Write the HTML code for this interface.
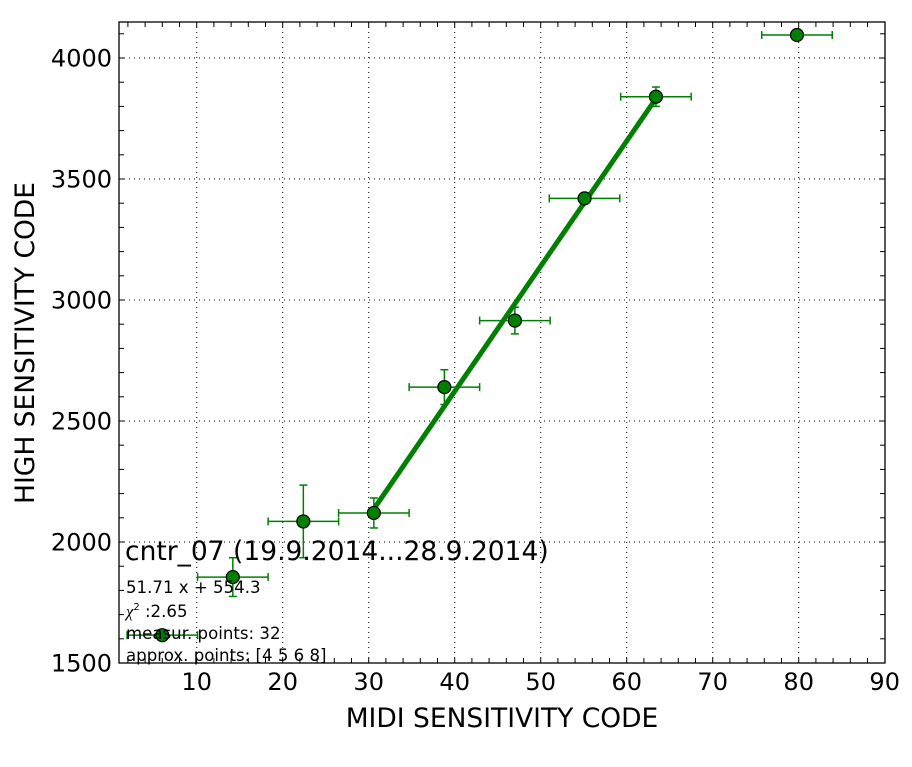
<!DOCTYPE html>
<html><head><meta charset="utf-8"><style>
body{margin:0;background:#fff;}
svg text{font-family:"DejaVu Sans","Liberation Sans",sans-serif;}
</style></head><body>
<svg id="chart" width="912" height="762" xmlns="http://www.w3.org/2000/svg">
<rect x="0" y="0" width="912" height="762" fill="#fff"/>
<g id="grid"></g><g id="ticks"></g><g id="fit"></g><g id="points"></g>
<rect x="119" y="22" width="766" height="641" fill="none" stroke="#000" stroke-width="1.3"/>
<text x="502" y="727" font-size="26.5" text-anchor="middle">MIDI SENSITIVITY CODE</text>
<text transform="translate(34,343) rotate(-90)" font-size="26.5" text-anchor="middle">HIGH SENSITIVITY CODE</text>
<text x="125" y="560" font-size="26.5">cntr_07 (19.9.2014...28.9.2014)</text>
<text x="126" y="593" font-size="16.6">51.71 x + 554.3</text>
<text x="126" y="617" font-size="16.6"><tspan font-family="Liberation Serif,serif" font-style="italic">χ</tspan><tspan font-size="10" dy="-7">2</tspan><tspan dy="7"> :2.65</tspan></text>
<text x="126" y="639" font-size="16.6">measur. points: 32</text>
<text x="126" y="661" font-size="16.6">approx. points: [4 5 6 8]</text>
</svg>
<script>
const xTicks=[10,20,30,40,50,60,70,80,90];
const yTicks=[1500,2000,2500,3000,3500,4000];
const xVals=[6,14.2,22.4,30.6,38.8,47,55.1,63.4,79.8];
const yVals=[1615,1855,2085,2120,2640,2915,3420,3840,4095];
const xErr=[4.1,4.1,4.1,4.1,4.1,4.1,4.1,4.1,4.1];
const yErr=[15,80,150,62,72,55,10,40,0];
const fitSlope=51.71, fitIntercept=554.3;
const fitRange=[30.6,63.4];
const X=v=>110.7+8.6*v, Y=v=>663-(v-1500)*0.242;
const NS="http://www.w3.org/2000/svg";
function mk(p,t,a){const e=document.createElementNS(NS,t);for(const k in a)e.setAttribute(k,a[k]);p.appendChild(e);return e;}
const grid=document.getElementById('grid'),ticks=document.getElementById('ticks'),fit=document.getElementById('fit'),pts=document.getElementById('points');
xTicks.forEach(t=>{const x=X(t);
 if(t<90){const g=mk(grid,'line',{x1:x,x2:x,y1:22,y2:663,stroke:'#000','stroke-width':1,'stroke-dasharray':'1,4'});
 
 }
 const l=mk(ticks,'text',{x:x,y:690,'font-size':24,'text-anchor':'middle'});l.textContent=t;
 
 });
for(let v=2;v<=89;v+=2){const x=X(v);mk(ticks,'line',{x1:x,x2:x,y1:663,y2:658,stroke:'#000'});mk(ticks,'line',{x1:x,x2:x,y1:22,y2:27,stroke:'#000'});}
yTicks.forEach(t=>{const y=Y(t);
 if(t>1500){const g=mk(grid,'line',{x1:119,x2:885,y1:y,y2:y,stroke:'#000','stroke-width':1,'stroke-dasharray':'1,4'});
 
 }
 const l=mk(ticks,'text',{x:112,y:y+8.5,'font-size':24,'text-anchor':'end'});l.textContent=t;
 
 });
for(let v=1500;v<=4150;v+=100){const y=Y(v);mk(ticks,'line',{x1:119,x2:124,y1:y,y2:y,stroke:'#000'});mk(ticks,'line',{x1:880,x2:885,y1:y,y2:y,stroke:'#000'});}
const fl=mk(fit,'line',{x1:X(fitRange[0]),y1:Y(fitSlope*fitRange[0]+fitIntercept),x2:X(fitRange[1]),y2:Y(fitSlope*fitRange[1]+fitIntercept),stroke:'#008000','stroke-width':5});


xVals.forEach((xv,i)=>{const g=mk(pts,'g',{});
 
 
 const cx=X(xv),cy=Y(yVals[i]),x1=X(xv-xErr[i]),x2=X(xv+xErr[i]),y1=Y(yVals[i]-yErr[i]),y2=Y(yVals[i]+yErr[i]);
 const s={stroke:'#008000','stroke-width':1.5};
 mk(g,'line',Object.assign({x1:x1,x2:x2,y1:cy,y2:cy},s));
 mk(g,'line',Object.assign({x1:x1,x2:x1,y1:cy-4,y2:cy+4},s));
 mk(g,'line',Object.assign({x1:x2,x2:x2,y1:cy-4,y2:cy+4},s));
 if(yErr[i]>0){mk(g,'line',Object.assign({x1:cx,x2:cx,y1:y1,y2:y2},s));
 mk(g,'line',Object.assign({x1:cx-4,x2:cx+4,y1:y1,y2:y1},s));
 mk(g,'line',Object.assign({x1:cx-4,x2:cx+4,y1:y2,y2:y2},s));}
 mk(g,'circle',{cx:cx,cy:cy,r:6.5,fill:'#008000',stroke:'#000','stroke-width':1.2});});
</script>
</body></html>
